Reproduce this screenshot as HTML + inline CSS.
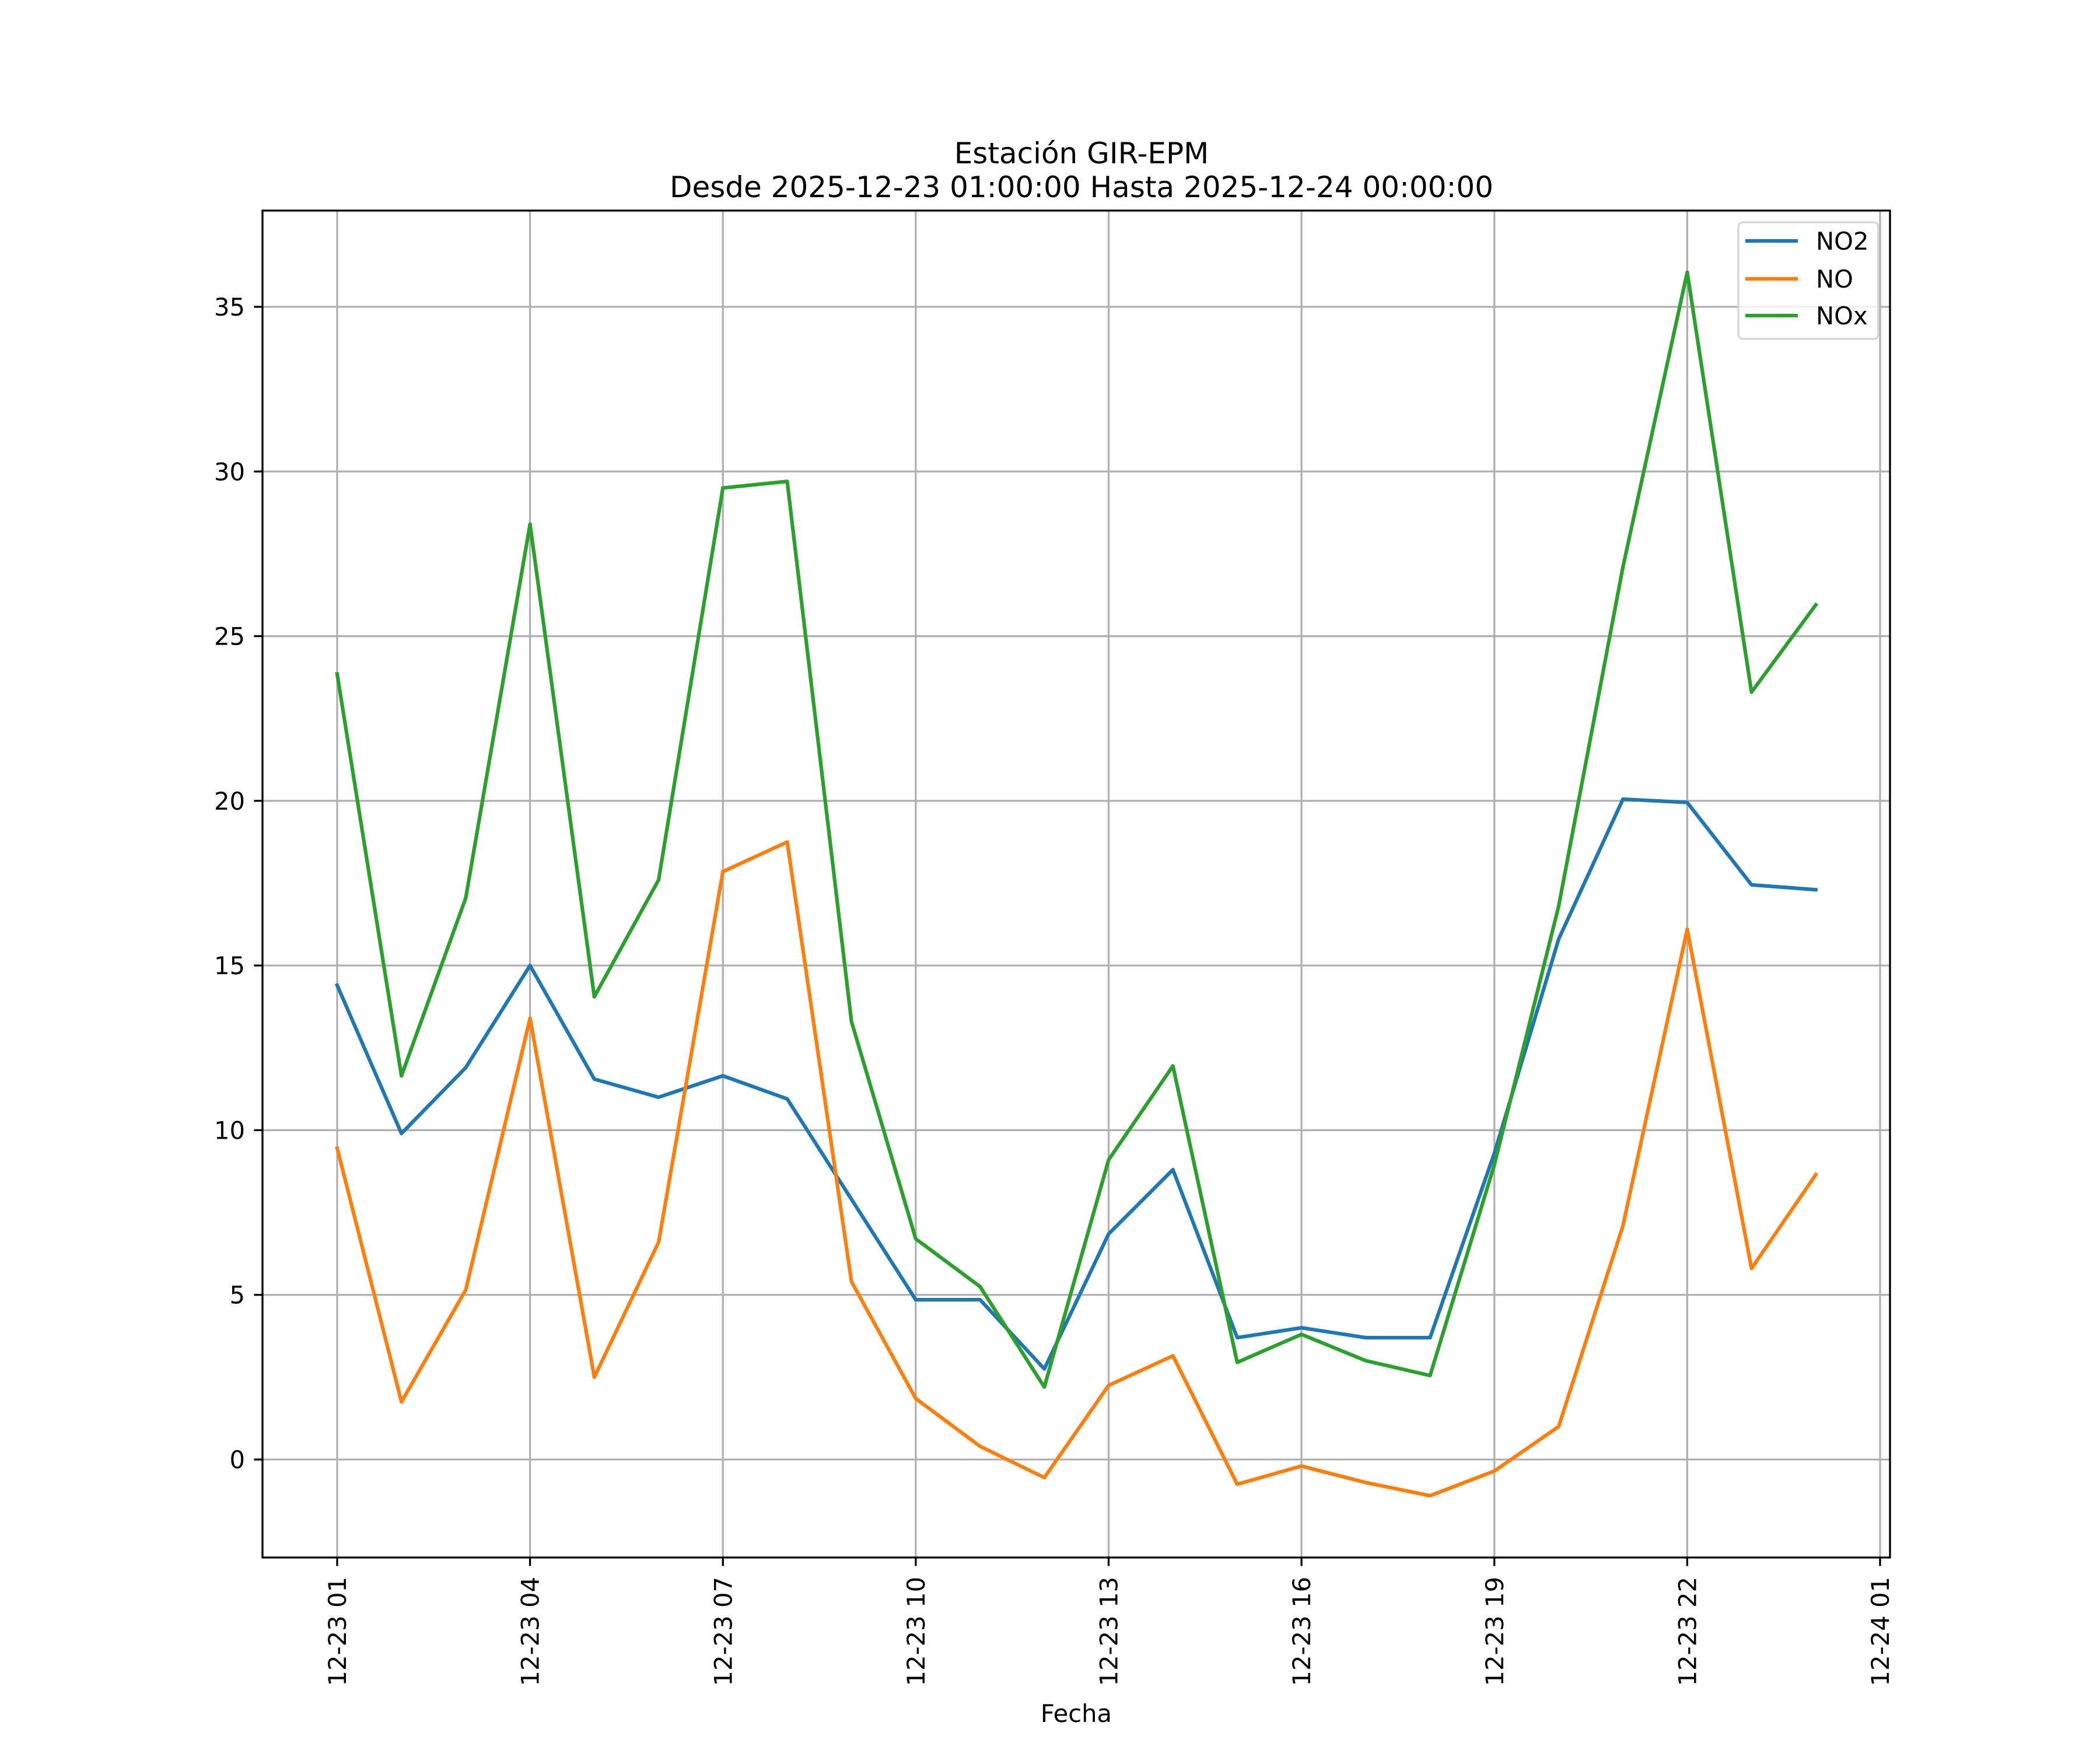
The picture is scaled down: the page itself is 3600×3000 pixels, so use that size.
<!DOCTYPE html>
<html><head><meta charset="utf-8"><style>
html,body{margin:0;padding:0;background:#fff}
svg{display:block;font-family:"DejaVu Sans","Liberation Sans",sans-serif}
</style></head><body>
<svg id="chart" width="3600" height="3000" viewBox="0 0 3600 3000" xmlns="http://www.w3.org/2000/svg">
<rect width="3600" height="3000" fill="#fff"/>
<g id="grid"></g>
<g id="series"></g>
<rect x="450" y="361" width="2790" height="2309" fill="none" stroke="#000" stroke-width="3.3"/>
<g id="ticks"></g>
<text x="1854" y="280" font-size="50" text-anchor="middle">Estación GIR-EPM</text>
<text x="1854" y="338" font-size="50" text-anchor="middle">Desde 2025-12-23 01:00:00 Hasta 2025-12-24 00:00:00</text>
<text x="1845" y="2952" font-size="41.7" text-anchor="middle">Fecha</text>
<g>
<rect x="2980" y="381" width="240" height="200" rx="8" fill="#fff" fill-opacity="0.8" stroke="#d5d5d5" stroke-width="3.3"/>
<line x1="2992" y1="413" x2="3082" y2="413" stroke="#1f77b4" stroke-width="6.25"/>
<text x="3113" y="428" font-size="41.7">NO2</text>
<line x1="2992" y1="478" x2="3082" y2="478" stroke="#ff7f0e" stroke-width="6.25"/>
<text x="3113" y="493" font-size="41.7">NO</text>
<line x1="2992" y1="541" x2="3082" y2="541" stroke="#2ca02c" stroke-width="6.25"/>
<text x="3113" y="556" font-size="41.7">NOx</text>
</g>
</svg>
<script>
const hours = [1,2,3,4,5,6,7,8,9,10,11,12,13,14,15,16,17,18,19,20,21,22,23,24];
const no2 = [14.4,9.9,11.9,15.0,11.55,11.0,11.65,10.95,7.9,4.85,4.85,2.75,6.85,8.8,3.7,4.0,3.7,3.7,9.3,15.8,20.05,19.95,17.45,17.3];
const no = [9.45,1.75,5.15,13.4,2.5,6.6,17.85,18.75,5.4,1.85,0.4,-0.55,2.25,3.15,-0.75,-0.2,-0.7,-1.1,-0.35,1.0,7.1,16.1,5.8,8.65];
const nox = [23.85,11.65,17.05,28.4,14.05,17.6,29.5,29.7,13.3,6.7,5.25,2.2,9.1,11.95,2.95,3.8,3.0,2.55,8.95,16.8,27.1,36.05,23.3,25.95];
const xTickHours = [1,4,7,10,13,16,19,22,25];
const xTickLabels = ["12-23 01","12-23 04","12-23 07","12-23 10","12-23 13","12-23 16","12-23 19","12-23 22","12-24 01"];
const yTicks = [0,5,10,15,20,25,30,35];

const NS = "http://www.w3.org/2000/svg";
const L=450,R=3240,T=361,B=2670;
const X = h => 578 + (h-1)*(3223-578)/24;
const Y = v => 2502 - v*(2502-526)/35;
function mk(tag, attrs, parent){const e=document.createElementNS(NS,tag);for(const k in attrs)e.setAttribute(k,attrs[k]);parent.appendChild(e);return e;}
const grid=document.getElementById('grid'), ticks=document.getElementById('ticks'), series=document.getElementById('series');
xTickHours.forEach((h,i)=>{
  const x=X(h);
  const g=mk('line',{x1:x,y1:T,x2:x,y2:B,stroke:'#b0b0b0','stroke-width':3.3},grid);
  
  
  const t=mk('line',{x1:x,y1:B,x2:x,y2:B+14.6,stroke:'#000','stroke-width':3.3},ticks);
  
  
  const tx=mk('text',{x:0,y:0,'font-size':41.7,'text-anchor':'end',transform:`translate(${x+15},${B+33}) rotate(-90)`},ticks);
  tx.textContent=xTickLabels[i];
  
  
});
yTicks.forEach(v=>{
  const y=Y(v);
  const g=mk('line',{x1:L,y1:y,x2:R,y2:y,stroke:'#b0b0b0','stroke-width':3.3},grid);
  
  
  const t=mk('line',{x1:L-14.6,y1:y,x2:L,y2:y,stroke:'#000','stroke-width':3.3},ticks);
  
  
  const tx=mk('text',{x:L-30,y:y+15,'font-size':41.7,'text-anchor':'end'},ticks);
  tx.textContent=String(v);
  
  
});
[[no2,'#1f77b4','no2'],[no,'#ff7f0e','no'],[nox,'#2ca02c','nox']].forEach(([vals,c,n])=>{
  const p=mk('polyline',{points:vals.map((v,i)=>X(hours[i])+','+Y(v)).join(' '),fill:'none',stroke:c,'stroke-width':6.25,'stroke-linejoin':'round','stroke-linecap':'square'},series);
  
  
});
</script>
</body></html>
